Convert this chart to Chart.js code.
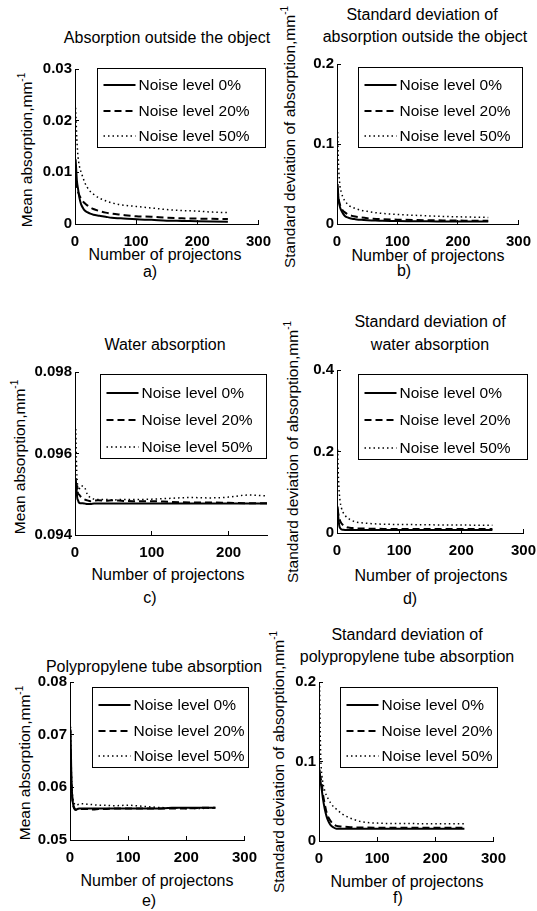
<!DOCTYPE html>
<html>
<head>
<meta charset="utf-8">
<script src="https://cdn.jsdelivr.net/npm/chart.js@4.4.0/dist/chart.umd.min.js"></script>
<style>
  body { margin: 0; background: #fff; }
  #page { position: relative; width: 537px; height: 911px; overflow: hidden;
          font-family: "Liberation Sans", Arial, sans-serif; color: #000; }
  canvas { position: absolute; }
  .lbl { position: absolute; white-space: nowrap; font-size: 16px; line-height: 1;
         transform: translate(-50%, -50%); }
  .rot { font-size: 15.5px; transform: translate(-50%, -50%) rotate(-90deg); }
  .rot sup { font-size: 10px; vertical-align: 7px; line-height: 0; }
</style>
</head>
<body>
<div id="page"></div>
<script>
// number of projections (x values of every curve)
const projections = [1, 2, 3, 4, 5, 7, 10, 13, 16, 20, 25, 30, 40, 50, 60, 75, 100, 125, 150, 175, 200, 225, 250];
const noiseLabels = ['Noise level 0%', 'Noise level 20%', 'Noise level 50%'];

// a) mean absorption outside the object
const outsideMean0  = [0.0125, 0.0105, 0.0085, 0.0075, 0.0068, 0.0052, 0.0038, 0.0031, 0.0026, 0.0023, 0.0020, 0.0018, 0.0016, 0.0014, 0.0012, 0.0011, 0.0009, 0.0008, 0.00065, 0.0006, 0.00055, 0.0005, 0.00045];
const outsideMean20 = [0.0105, 0.0080, 0.0072, 0.0066, 0.0062, 0.0056, 0.0049, 0.0044, 0.0040, 0.0036, 0.0032, 0.0029, 0.0025, 0.0022, 0.0020, 0.0018, 0.0015, 0.0014, 0.0012, 0.0011, 0.00105, 0.0010, 0.00095];
const outsideMean50 = [0.0225, 0.0195, 0.0165, 0.0145, 0.0130, 0.0113, 0.0100, 0.0090, 0.0080, 0.0071, 0.0063, 0.0058, 0.0050, 0.0045, 0.0041, 0.0037, 0.0034, 0.0031, 0.0028, 0.0026, 0.0025, 0.0023, 0.0022];

// b) standard deviation outside the object
const outsideStd0  = [0.050, 0.036, 0.028, 0.024, 0.021, 0.017, 0.013, 0.010, 0.0085, 0.0075, 0.0065, 0.0060, 0.0052, 0.0047, 0.0044, 0.0040, 0.0037, 0.0035, 0.0033, 0.0032, 0.0031, 0.0030, 0.0030];
const outsideStd20 = [0.045, 0.036, 0.030, 0.027, 0.024, 0.020, 0.0165, 0.0145, 0.013, 0.0115, 0.0102, 0.0093, 0.0081, 0.0072, 0.0066, 0.0060, 0.0054, 0.0050, 0.0047, 0.0045, 0.0043, 0.0041, 0.0040];
const outsideStd50 = [0.115, 0.085, 0.066, 0.055, 0.047, 0.040, 0.033, 0.029, 0.026, 0.023, 0.021, 0.0195, 0.017, 0.0158, 0.0145, 0.0132, 0.012, 0.011, 0.0102, 0.0095, 0.0090, 0.0086, 0.0082];

// c) mean water absorption
const waterMean0  = [0.0953, 0.0951, 0.0949, 0.09485, 0.0948, 0.09478, 0.09478, 0.09477, 0.09476, 0.09476, 0.09477, 0.09477, 0.09477, 0.09477, 0.09477, 0.09477, 0.09477, 0.09477, 0.09477, 0.09477, 0.09477, 0.09477, 0.09477];
const waterMean20 = [0.0954, 0.0951, 0.0952, 0.0950, 0.0950, 0.09495, 0.0949, 0.09487, 0.09485, 0.09483, 0.09484, 0.09485, 0.09484, 0.09485, 0.09484, 0.09483, 0.09483, 0.09481, 0.0948, 0.0948, 0.09479, 0.09478, 0.09478];
const waterMean50 = [0.0966, 0.0957, 0.0953, 0.0951, 0.0951, 0.0952, 0.0952, 0.09515, 0.0950, 0.09492, 0.09488, 0.09487, 0.09487, 0.09486, 0.09487, 0.09487, 0.09488, 0.0949, 0.09492, 0.09491, 0.09493, 0.09498, 0.09496];

// d) standard deviation of water absorption
const waterStd0  = [0.065, 0.040, 0.025, 0.016, 0.012, 0.009, 0.008, 0.0076, 0.0075, 0.0074, 0.0074, 0.0073, 0.0073, 0.0073, 0.0072, 0.0072, 0.0072, 0.0072, 0.0072, 0.0072, 0.0072, 0.0072, 0.0072];
const waterStd20 = [0.060, 0.048, 0.040, 0.034, 0.030, 0.024, 0.019, 0.016, 0.014, 0.013, 0.012, 0.0115, 0.011, 0.0105, 0.0103, 0.0101, 0.0100, 0.0099, 0.0099, 0.0098, 0.0098, 0.0098, 0.0098];
const waterStd50 = [0.205, 0.150, 0.115, 0.092, 0.078, 0.062, 0.050, 0.043, 0.038, 0.034, 0.030, 0.027, 0.025, 0.0235, 0.0225, 0.0215, 0.021, 0.0205, 0.020, 0.0198, 0.0195, 0.0192, 0.019];

// e) mean polypropylene tube absorption
const tubeMean0  = [0.0710, 0.0640, 0.0600, 0.0580, 0.0570, 0.0562, 0.0558, 0.0559, 0.0560, 0.0560, 0.0560, 0.0560, 0.0560, 0.0560, 0.0560, 0.0560, 0.0560, 0.0560, 0.0560, 0.0561, 0.0561, 0.0561, 0.0561];
const tubeMean20 = [0.0670, 0.0620, 0.0595, 0.0578, 0.0568, 0.0560, 0.0557, 0.0558, 0.0559, 0.0559, 0.0559, 0.0559, 0.0558, 0.0559, 0.0559, 0.0560, 0.0560, 0.0560, 0.0560, 0.0560, 0.0560, 0.0561, 0.0561];
const tubeMean50 = [0.0715, 0.0650, 0.0610, 0.0590, 0.0578, 0.0570, 0.0566, 0.0567, 0.0568, 0.0569, 0.0569, 0.0568, 0.0567, 0.0566, 0.0566, 0.0565, 0.0566, 0.0564, 0.0562, 0.0561, 0.0560, 0.0560, 0.0561];

// f) standard deviation of polypropylene tube absorption
const tubeStd0  = [0.090, 0.080, 0.073, 0.068, 0.063, 0.052, 0.040, 0.031, 0.025, 0.020, 0.017, 0.0155, 0.0155, 0.0155, 0.0155, 0.0155, 0.0155, 0.0155, 0.0155, 0.0155, 0.0155, 0.0155, 0.0155];
const tubeStd20 = [0.085, 0.082, 0.078, 0.075, 0.070, 0.058, 0.046, 0.036, 0.030, 0.025, 0.021, 0.019, 0.0182, 0.0176, 0.0172, 0.0170, 0.0168, 0.0168, 0.0167, 0.0167, 0.0167, 0.0167, 0.0167];
const tubeStd50 = [0.195, 0.140, 0.105, 0.090, 0.082, 0.072, 0.063, 0.057, 0.053, 0.048, 0.043, 0.040, 0.034, 0.030, 0.027, 0.024, 0.0225, 0.022, 0.022, 0.0218, 0.0218, 0.0217, 0.0217];

// tick labels
const xTicks300 = [0, 100, 200, 300];
const xTicks250 = [0, 100, 200];
const yTicksA = [0, 0.01, 0.02, 0.03];
const yTicksB = [0, 0.1, 0.2];
const yTicksC = [0.094, 0.096, 0.098];
const yTicksD = [0, 0.2, 0.4];
const yTicksE = [0.05, 0.06, 0.07, 0.08];
const yTicksF = [0, 0.1, 0.2];

// line styles for 0%, 20%, 50%
const lineStyles = [
  { borderWidth: 2, borderDash: [] },
  { borderWidth: 2, borderDash: [7, 4] },
  { borderWidth: 1.5, borderDash: [1.5, 3] }
];

// plot boxes [left, top, right, bottom] in page pixels, legend [dx, dy, w, h] from plot top-left
const panels = [
  { box: [75, 65, 262, 224],  xMax: 300, xTicks: xTicks300, yTicks: yTicksA, series: [outsideMean0, outsideMean20, outsideMean50], legend: [22, -1, 168, 79] },
  { box: [337, 60, 522, 224], xMax: 300, xTicks: xTicks300, yTicks: yTicksB, series: [outsideStd0, outsideStd20, outsideStd50], legend: [21, 3, 164, 80] },
  { box: [75, 368, 267, 535], xMax: 250, xTicks: xTicks250, yTicks: yTicksC, series: [waterMean0, waterMean20, waterMean50], legend: [25, 2, 166, 84] },
  { box: [337, 366, 527, 533], xMax: 300, xTicks: xTicks300, yTicks: yTicksD, series: [waterStd0, waterStd20, waterStd50], legend: [21, 4, 169, 85] },
  { box: [70, 678, 248, 840], xMax: 300, xTicks: xTicks300, yTicks: yTicksE, series: [tubeMean0, tubeMean20, tubeMean50], legend: [22, 5, 156, 80] },
  { box: [319, 678, 497, 841], xMax: 300, xTicks: xTicks300, yTicks: yTicksF, series: [tubeStd0, tubeStd20, tubeStd50], legend: [21, 5, 157, 80] }
];

const yLabelMean = 'Mean absorption,mm<sup>-1</sup>';
const yLabelStd = 'Standard deviation of absorption,mm<sup>-1</sup>';

// text placed by its centre
const texts = [
  ['Absorption outside the object', 167, 38], ['Standard deviation of', 422, 15], ['absorption outside the object', 425, 37],
  ['Water absorption', 165, 345], ['Standard deviation of', 430, 322], ['water absorption', 430, 345],
  ['Polypropylene tube absorption', 154, 667], ['Standard deviation of', 407, 635], ['polypropylene tube absorption', 407, 657],
  ['Number of projectons', 165, 255], ['Number of projectons', 428, 256], ['Number of projectons', 168, 575],
  ['Number of projectons', 431, 576], ['Number of projectons', 157, 881], ['Number of projectons', 407, 882],
  ['a)', 150, 272], ['b)', 404, 271], ['c)', 150, 598], ['d)', 410, 599], ['e)', 149, 901], ['f)', 398, 898]
];
const yTexts = [
  [yLabelMean, 27, 150], [yLabelStd, 290, 137], [yLabelMean, 20, 457],
  [yLabelStd, 293, 452], [yLabelMean, 25, 763], [yLabelStd, 279, 762]
];

const page = document.getElementById('page');
texts.forEach(([t, x, y]) => {
  const d = document.createElement('div');
  d.className = 'lbl';
  d.textContent = t;
  d.style.left = x + 'px'; d.style.top = y + 'px';
  page.appendChild(d);
});
yTexts.forEach(([t, x, y]) => {
  const d = document.createElement('div');
  d.className = 'lbl rot';
  d.innerHTML = t;
  d.style.left = x + 'px'; d.style.top = y + 'px';
  page.appendChild(d);
});

// legend drawn inside the axes, like the matlab one
const legendBox = {
  id: 'legendBox',
  afterDatasetsDraw(chart, args, opts) {
    const { ctx, chartArea } = chart;
    const [dx, dy, w, h] = opts.rect;
    const x = Math.round(chartArea.left + dx) + 0.5, y = Math.round(chartArea.top + dy) + 0.5;
    const rows = [0.215, 0.54, 0.86];
    ctx.save();
    ctx.fillStyle = '#fff';
    ctx.fillRect(x, y, w, h);
    ctx.strokeStyle = '#000';
    ctx.lineWidth = 1;
    ctx.strokeRect(x, y, w, h);
    ctx.font = '15.5px "Liberation Sans", Arial, sans-serif';
    ctx.textBaseline = 'middle';
    chart.data.datasets.forEach((ds, i) => {
      const cy = Math.round(y + h * rows[i]);
      ctx.setLineDash(ds.borderDash);
      ctx.lineWidth = ds.borderWidth;
      ctx.beginPath();
      ctx.moveTo(x + 6, cy);
      ctx.lineTo(x + 38, cy);
      ctx.stroke();
      ctx.setLineDash([]);
      ctx.fillStyle = '#000';
      ctx.fillText(ds.label, x + 41, cy + 1);
    });
    ctx.restore();
  }
};

const PAD_L = 48, PAD_T = 12, PAD_R = 22, PAD_B = 32;
const tickFont = { family: '"Liberation Sans", Arial, sans-serif', size: 15, weight: 'bold' };

function makePanel(p) {
  const [l, t, r, b] = p.box;
  const c = document.createElement('canvas');
  c.width = r - l + PAD_L + PAD_R;
  c.height = b - t + PAD_T + PAD_B;
  c.style.left = (l - PAD_L) + 'px';
  c.style.top = (t - PAD_T) + 'px';
  page.appendChild(c);

  const datasets = p.series.map((vals, i) => ({
    label: noiseLabels[i],
    data: vals.map((v, k) => ({ x: projections[k], y: v })),
    borderColor: '#000',
    borderWidth: lineStyles[i].borderWidth,
    borderDash: lineStyles[i].borderDash,
    pointRadius: 0,
    fill: false,
    cubicInterpolationMode: 'monotone'
  }));

  const axisCommon = {
    type: 'linear',
    grid: { drawOnChartArea: false, drawTicks: true, tickLength: -4, color: '#000' },
    border: { color: '#000', width: 1 }
  };

  new Chart(c, {
    type: 'line',
    data: { datasets },
    plugins: [legendBox],
    options: {
      responsive: false,
      animation: false,
      devicePixelRatio: 1,
      layout: { padding: { top: PAD_T, right: PAD_R, left: 0, bottom: 0 } },
      plugins: { legend: { display: false }, tooltip: { enabled: false }, legendBox: { rect: p.legend } },
      scales: {
        x: Object.assign({}, axisCommon, {
          min: 0, max: p.xMax,
          afterBuildTicks: s => { s.ticks = p.xTicks.map(v => ({ value: v })); },
          afterFit: s => { s.height = PAD_B; },
          ticks: { color: '#000', font: tickFont, padding: 13, maxRotation: 0, autoSkip: false }
        }),
        y: Object.assign({}, axisCommon, {
          min: p.yTicks[0], max: p.yTicks[p.yTicks.length - 1],
          afterBuildTicks: s => { s.ticks = p.yTicks.map(v => ({ value: v })); },
          afterFit: s => { s.width = PAD_L; },
          ticks: { color: '#000', font: tickFont, padding: 7, autoSkip: false,
                   callback: v => String(+v.toFixed(4)) }
        })
      }
    }
  });
}

panels.forEach(makePanel);
</script>
</body>
</html>
